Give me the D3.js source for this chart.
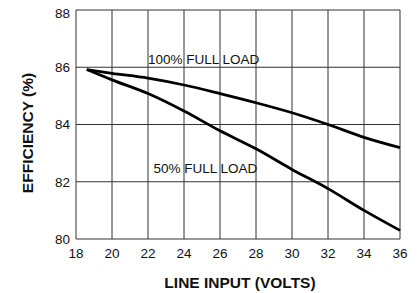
<!DOCTYPE html>
<html>
<head>
<meta charset="utf-8">
<script src="https://cdn.jsdelivr.net/npm/d3@7"></script>
<style>
  body { margin: 0; background: #fff; }
  text { font-family: "Liberation Sans", Arial, sans-serif; fill: #111; }
</style>
</head>
<body>
<div id="mount"></div>
<script>
'use strict';

// values
const volts = [18.6, 20, 22, 24, 26, 28, 30, 32, 34, 36];
const fullLoad = [85.92, 85.79, 85.62, 85.38, 85.08, 84.76, 84.41, 84.0, 83.55, 83.19];
const halfLoad = [85.92, 85.56, 85.08, 84.47, 83.78, 83.15, 82.43, 81.76, 81.0, 80.3];
const xTicks = [18, 20, 22, 24, 26, 28, 30, 32, 34, 36];
const yTicks = [80, 82, 84, 86, 88];
const labels = [
  { text: '100% FULL LOAD', x: 22.0, y: 86.1 },
  { text: '50% FULL LOAD', x: 22.3, y: 82.3 }
];

const margin = { top: 10, left: 76, bottom: 54, right: 17 },
      width = 417 - margin.left - margin.right,
      height = 293 - margin.top - margin.bottom;

const svg = d3.select('#mount').append('svg')
    .attr('width', 417)
    .attr('height', 293);

const graph = svg.append('g')
    .attr('transform', `translate(${margin.left}, ${margin.top})`);

const x = d3.scaleLinear().domain([18, 36]).range([0, width]);
const y = d3.scaleLinear().domain([80, 88]).range([height, 0]);

// grid
graph.selectAll('.vgrid')
    .data(xTicks)
  .enter().append('line')
    .attr('x1', d => x(d)).attr('x2', d => x(d))
    .attr('y1', 0).attr('y2', height)
    .style('stroke', '#333')
    .style('stroke-width', 1);

graph.selectAll('.hgrid')
    .data(yTicks)
  .enter().append('line')
    .attr('x1', 0).attr('x2', width)
    .attr('y1', d => y(d)).attr('y2', d => y(d))
    .style('stroke', '#333')
    .style('stroke-width', 1);

// tick labels
graph.selectAll('.xlab')
    .data(xTicks)
  .enter().append('text')
    .attr('x', d => x(d))
    .attr('y', height + 19)
    .attr('text-anchor', 'middle')
    .style('font-size', '13.5px')
    .text(d => d);

graph.selectAll('.ylab')
    .data(yTicks)
  .enter().append('text')
    .attr('x', -6)
    .attr('y', d => y(d) + (d === 88 ? 3 : 0))
    .attr('dy', '0.36em')
    .attr('text-anchor', 'end')
    .style('font-size', '13.5px')
    .text(d => d);

// curves
const line = d3.line()
    .x(d => x(d[0]))
    .y(d => y(d[1]))
    .curve(d3.curveMonotoneX);

[fullLoad, halfLoad].forEach(series => {
  graph.append('path')
      .datum(volts.map((v, i) => [v, series[i]]))
      .attr('d', line)
      .style('fill', 'none')
      .style('stroke', '#000')
      .style('stroke-width', 2.8);
});

graph.selectAll('.curve-label')
    .data(labels)
  .enter().append('text')
    .attr('x', d => x(d.x))
    .attr('y', d => y(d.y))
    .style('font-size', '13.5px')
    .text(d => d.text);

// axis titles
svg.append('text')
    .attr('x', margin.left + width / 2 + 2)
    .attr('y', 288)
    .attr('text-anchor', 'middle')
    .style('font-size', '15.5px')
    .style('font-weight', 'bold')
    .text('LINE INPUT (VOLTS)');

svg.append('text')
    .attr('transform', 'translate(33, 133) rotate(-90)')
    .attr('text-anchor', 'middle')
    .style('font-size', '15.5px')
    .style('font-weight', 'bold')
    .text('EFFICIENCY (%)');
</script>
</body>
</html>
